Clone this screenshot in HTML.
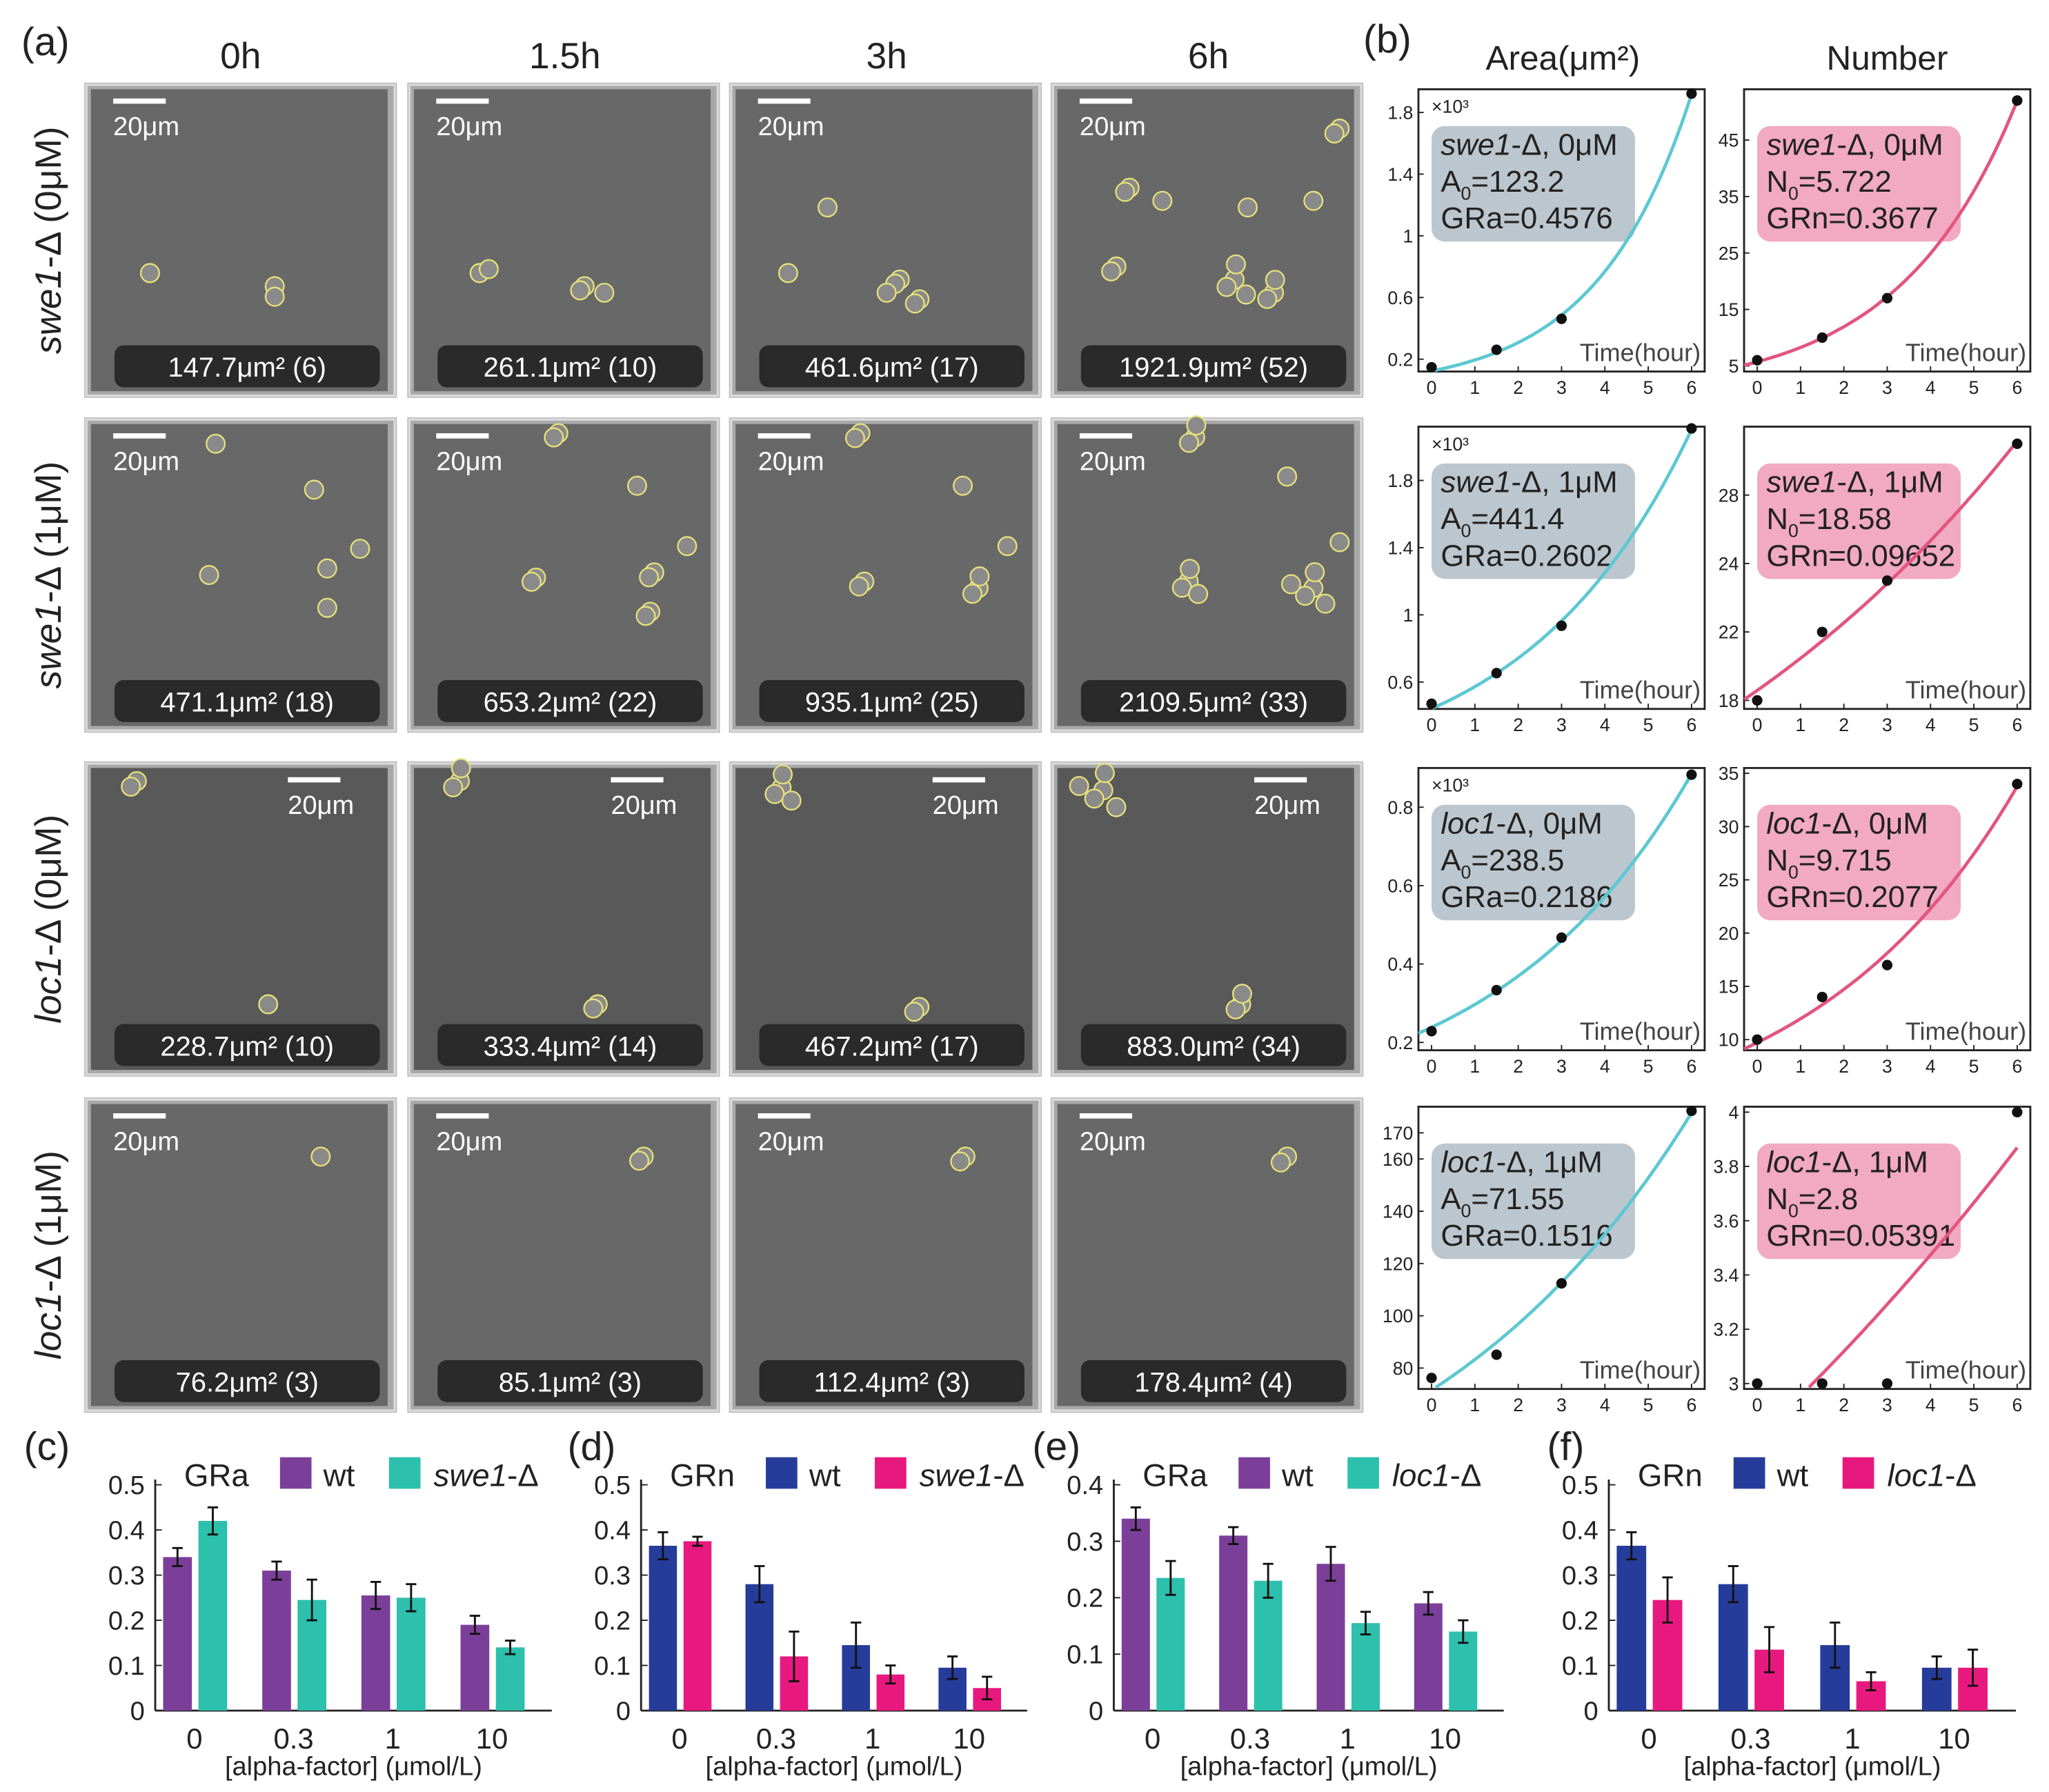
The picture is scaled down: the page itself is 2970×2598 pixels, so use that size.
<!DOCTYPE html>
<html><head><meta charset="utf-8">
<style>
html,body{margin:0;padding:0;background:#fff;}
svg{display:block;font-family:"Liberation Sans","DejaVu Sans",sans-serif;}
</style></head>
<body>
<svg id="fig" width="2970" height="2598" viewBox="0 0 1560 1365" xmlns="http://www.w3.org/2000/svg"></svg>
<script>
// ---------- data ----------
const timeHeaders = ['0h','1.5h','3h','6h'];
const rowLabels = [['swe1','-Δ (0μM)'],['swe1','-Δ (1μM)'],['loc1','-Δ (0μM)'],['loc1','-Δ (1μM)']];
const areaLabels = [
 ['147.7μm² (6)','261.1μm² (10)','461.6μm² (17)','1921.9μm² (52)'],
 ['471.1μm² (18)','653.2μm² (22)','935.1μm² (25)','2109.5μm² (33)'],
 ['228.7μm² (10)','333.4μm² (14)','467.2μm² (17)','883.0μm² (34)'],
 ['76.2μm² (3)','85.1μm² (3)','112.4μm² (3)','178.4μm² (4)']];
const timePts = [0,1.5,3,6];
const areaVals = [[0.1477,0.2611,0.4616,1.9219],[0.4711,0.6532,0.9351,2.1095],[0.2287,0.3334,0.4672,0.8830],[76.2,85.1,112.4,178.4]];
const areaA0 = [0.1232,0.4414,0.2385,71.55];
const areaGR = [0.4576,0.2602,0.2186,0.1516];
const areaTicks = [[0.2,0.6,1,1.4,1.8],[0.6,1,1.4,1.8],[0.2,0.4,0.6,0.8],[80,100,120,140,160,170]];
const areaRange = [[0.12,1.95],[0.44,2.12],[0.18,0.9],[72,180]];
const areaBox = [['swe1','-Δ, 0μM','A','=123.2','GRa=0.4576'],['swe1','-Δ, 1μM','A','=441.4','GRa=0.2602'],['loc1','-Δ, 0μM','A','=238.5','GRa=0.2186'],['loc1','-Δ, 1μM','A','=71.55','GRa=0.1516']];
const numVals = [[6,10,17,52],[18,22,25,33],[10,14,17,34],[3,3,3,4]];
const numN0 = [5.722,18.58,9.715,2.8];
const numGR = [0.3677,0.09652,0.2077,0.05391];
const numTicks = [[5,15,25,35,45],[18,22,26,30],[10,15,20,25,30,35],[3,3.2,3.4,3.6,3.8,4]];
const numTickLabels = [['5','15','25','35','45'],['18','22','24','28'],['10','15','20','25','30','35'],['3','3.2','3.4','3.6','3.8','4']];
const numRange = [[4,54],[17.5,34],[9,35.5],[2.98,4.02]];
const numBox = [['swe1','-Δ, 0μM','N','=5.722','GRn=0.3677'],['swe1','-Δ, 1μM','N','=18.58','GRn=0.09652'],['loc1','-Δ, 0μM','N','=9.715','GRn=0.2077'],['loc1','-Δ, 1μM','N','=2.8','GRn=0.05391']];
const xTicks = [0,1,2,3,4,5,6];

const barCats = ['0','0.3','1','10'];
const cWt = [0.34,0.31,0.255,0.19], cWtErr=[0.02,0.02,0.03,0.02];
const cMut = [0.42,0.245,0.25,0.14], cMutErr=[0.03,0.045,0.03,0.015];
const dWt = [0.365,0.28,0.145,0.095], dWtErr=[0.03,0.04,0.05,0.025];
const dMut = [0.375,0.12,0.08,0.05], dMutErr=[0.01,0.055,0.02,0.025];
const eWt = [0.34,0.31,0.26,0.19], eWtErr=[0.02,0.015,0.03,0.02];
const eMut = [0.235,0.23,0.155,0.14], eMutErr=[0.03,0.03,0.02,0.02];
const fWt = [0.365,0.28,0.145,0.095], fWtErr=[0.03,0.04,0.05,0.025];
const fMut = [0.245,0.135,0.065,0.095], fMutErr=[0.05,0.05,0.02,0.04];
const ticks05 = [0,0.1,0.2,0.3,0.4,0.5];
const ticks04 = [0,0.1,0.2,0.3,0.4];

// ---------- helpers ----------
const NS='http://www.w3.org/2000/svg';
const svg=document.getElementById('fig');
function mk(tag,attrs,parent){const e=document.createElementNS(NS,tag);for(const k in attrs)e.setAttribute(k,attrs[k]);(parent||svg).appendChild(e);return e;}
function txt(s,x,y,size,parent,extra){const e=mk('text',Object.assign({x:x,y:y,'font-size':size,fill:'#222'},extra||{}),parent);e.textContent=s;return e;}

// ---------- panel (a) ----------
let t=txt('(a)',16,42,30);


const colX=[64,310,555,800], rowY=[63,318,580,836], PW=238, PH=240;
const headX=[183,430,675,920];
timeHeaders.forEach((h,i)=>{
  const e=txt(h,headX[i],52,28,svg,{'text-anchor':'middle'});
  
  
});
rowLabels.forEach((r,i)=>{
  const cy=rowY[i]+PH/2;
  const e=mk('text',{x:0,y:0,'font-size':28,fill:'#222','text-anchor':'middle',transform:`translate(46,${cy}) rotate(-90)`});
  const a=mk('tspan',{'font-style':'italic'},e);a.textContent=r[0];
  const b=mk('tspan',{},e);b.textContent=r[1];
  
  
});
const cellSets=[
 [[[50,145,9],[145,155,10],[145,163,8]],[[55,145,10],[62,142,9],[135,155,12],[150,160,10]],[[45,145,10],[75,95,9],[130,150,12],[145,165,12],[120,160,10]],[[50,140,14],[60,80,12],[85,90,10],[140,150,30],[170,160,22],[150,95,10],[200,90,10],[220,35,14]]],
 [[[100,20,10],[175,55,7],[95,120,10],[185,115,10],[185,145,10],[210,100,8]],[[115,12,12],[175,52,7],[98,122,12],[188,118,14],[185,148,12],[213,98,8]],[[100,12,14],[178,52,7],[103,125,14],[190,130,20],[212,98,8]],[[110,15,20],[180,45,10],[105,125,25],[200,130,35],[220,95,10]]],
 [[[40,15,16],[140,185,10]],[[40,15,22],[145,185,12]],[[40,20,26],[145,187,14]],[[40,22,38],[145,185,18]]],
 [[[180,45,10]],[[180,45,12]],[[180,45,14]],[[180,45,17]]]
];
for(let r=0;r<4;r++)for(let c=0;c<4;c++){
  const x=colX[c],y=rowY[r];
  const g=mk('g',{});
  
  
  mk('rect',{x:x,y:y,width:PW,height:PH,fill:'#a8a8a8'},g);
  mk('rect',{x:x+5,y:y+5,width:PW-12,height:PH-10,fill:r==2?'#595959':'#686868'},g);
  mk('rect',{x:x+1.5,y:y+1.5,width:PW-3,height:PH-3,fill:'none',stroke:'#d8d8d8','stroke-width':2},g);
  cellSets[r][c].forEach(cl=>{
    const n=Math.max(1,Math.round(cl[2]/7));
    for(let k=0;k<n;k++){const ang=k*2.4, rr=cl[2]*0.55*Math.sqrt(k/n);
      mk('circle',{cx:x+cl[0]+rr*Math.cos(ang),cy:y+cl[1]+rr*Math.sin(ang),r:7,fill:'#8a8a8a',stroke:'#e8e27a','stroke-width':1.2},g);}
  });
  const sbx = r==2 ? x+155 : x+22;
  const sb=mk('line',{x1:sbx,x2:sbx+40,y1:y+14,y2:y+14,stroke:'#fff','stroke-width':4},g);
  
  
  const st=txt('20μm',sbx,y+40,20,g,{fill:'#fff'});
  
  
  mk('rect',{x:x+23,y:y+200,width:202,height:32,rx:7,fill:'#2a2a2a'},g);
  const al=txt(areaLabels[r][c],x+124,y+224,21,g,{fill:'#fff','text-anchor':'middle'});
  
  
}

// ---------- panel (b) ----------
t=txt('(b)',1038,40,30);


t=txt('Area(μm²)',1190,53,26,svg,{'text-anchor':'middle'});


t=txt('Number',1437,53,26,svg,{'text-anchor':'middle'});



const sRowTop=[68,325,585,843], sH=215;
function smallPlot(ox,oy,w,h,vals,ticks,tickLabels,rng,fn,color,box,boxFill,isArea,idx){
  const g=mk('g',{});
  
  
  const xs=tv=>ox+10+(tv/6)*(w-20);
  const ys=v=>oy+h-((v-rng[0])/(rng[1]-rng[0]))*h;
  mk('rect',{x:ox,y:oy,width:w,height:h,fill:'#fff',stroke:'#222','stroke-width':1.5},g);
  xTicks.forEach(tv=>{mk('line',{x1:xs(tv),x2:xs(tv),y1:oy+h,y2:oy+h-4,stroke:'#222'},g);
    const e=txt(String(tv),xs(tv),oy+h+17,14,g,{'text-anchor':'middle'});
    
    });
  ticks.forEach((tv,i)=>{mk('line',{x1:ox,x2:ox+4,y1:ys(tv),y2:ys(tv),stroke:'#222'},g);
    const e=txt(tickLabels[i],ox-4,ys(tv)+5,14,g,{'text-anchor':'end'});
    
    });
  if(isArea && idx<3){const e=txt('×10³',ox+10,oy+18,14,g);
    
    }
  const bx=mk('rect',{x:ox+10,y:oy+28,width:155,height:88,rx:10,fill:boxFill},g);
  
  
  const t1=mk('text',{x:ox+17,y:oy+50,'font-size':23,fill:'#222'},g);
  const a=mk('tspan',{'font-style':'italic'},t1);a.textContent=box[0];
  const b=mk('tspan',{},t1);b.textContent=box[1];
  const t2=mk('text',{x:ox+17,y:oy+78,'font-size':23,fill:'#222'},g);
  const c1=mk('tspan',{},t2);c1.textContent=box[2];
  const c2=mk('tspan',{'font-size':14,dy:6},t2);c2.textContent='0';
  const c3=mk('tspan',{dy:-6},t2);c3.textContent=box[3];
  txt(box[4],ox+17,oy+106,23,g);
  let d='';
  for(let k=0;k<=80;k++){const tv=-0.3+k*6.3/80;const v=fn(tv);if(v<rng[0]||v>rng[1]*1.02)continue;
    d+=(d?'L':'M')+xs(tv).toFixed(1)+','+ys(v).toFixed(1);}
  const cv=mk('path',{d:d,fill:'none',stroke:color,'stroke-width':2.5},g);
  
  
  vals.forEach((v,i)=>{const p=mk('circle',{cx:xs(timePts[i]),cy:ys(v),r:4,fill:'#111'},g);
    
    });
  const tl=txt('Time(hour)',ox+w-3,oy+h-8,19,g,{'text-anchor':'end',fill:'#444'});
  
  
}
for(let i=0;i<4;i++){
  smallPlot(1080,sRowTop[i],218,sH,areaVals[i],areaTicks[i],areaTicks[i].map(String),areaRange[i],tv=>areaA0[i]*Math.exp(areaGR[i]*tv),'#5cc8d2',areaBox[i],'#bcc6ce',true,i);
  smallPlot(1328,sRowTop[i],218,sH,numVals[i],numTicks[i],numTickLabels[i],numRange[i],tv=>numN0[i]*Math.exp(numGR[i]*tv),'#e2557f',numBox[i],'#f2a9c2',false,i);
}

// ---------- bar charts ----------
function barChart(label,ox,ax1,ymax,ticks,title,wt,wtE,mut,mutE,c1,c2,mutName,lx){
  const g=mk('g',{});
  
  
  const y0=1303, yTop=1131;
  const ys=v=>y0-(v/ymax)*(y0-yTop);
  const bw=(ax1-ox)/4;
  const lab=txt('('+label+')',lx,1112,30,g);
  
  
  mk('line',{x1:ox,x2:ox,y1:yTop-4,y2:y0,stroke:'#222','stroke-width':1.5},g);
  mk('line',{x1:ox,x2:ax1,y1:y0,y2:y0,stroke:'#222','stroke-width':1.5},g);
  ticks.forEach(tv=>{mk('line',{x1:ox,x2:ox+5,y1:ys(tv),y2:ys(tv),stroke:'#222'},g);
    const e=txt(String(tv),ox-8,ys(tv)+7,20,g,{'text-anchor':'end'});
    
    });
  const tt=txt(title,ox+22,1132,24,g);
  
  
  const lg1=mk('rect',{x:ox+95,y:1110,width:24,height:24,fill:c1},g);
  
  
  const l1=txt('wt',ox+128,1132,24,g);
  
  
  const lg2=mk('rect',{x:ox+178,y:1110,width:24,height:24,fill:c2},g);
  
  
  const l2=mk('text',{x:ox+212,y:1132,'font-size':24,fill:'#222'},g);
  const s1=mk('tspan',{'font-style':'italic'},l2);s1.textContent=mutName;
  const s2=mk('tspan',{},l2);s2.textContent='-Δ';
  
  
  barCats.forEach((cat,i)=>{
    const bs=ox+i*bw+6, w=bw*0.29;
    [[wt[i],wtE[i],c1,bs],[mut[i],mutE[i],c2,bs+w+5]].forEach((b,j)=>{
      const r=mk('rect',{x:b[3],y:ys(b[0]),width:w,height:y0-ys(b[0]),fill:b[2]},g);
      
      
      const cx=b[3]+w/2;
      mk('line',{x1:cx,x2:cx,y1:ys(b[0]+b[1]),y2:ys(b[0]-b[1]),stroke:'#111','stroke-width':1.5},g);
      mk('line',{x1:cx-4,x2:cx+4,y1:ys(b[0]+b[1]),y2:ys(b[0]+b[1]),stroke:'#111','stroke-width':1.5},g);
      mk('line',{x1:cx-4,x2:cx+4,y1:ys(b[0]-b[1]),y2:ys(b[0]-b[1]),stroke:'#111','stroke-width':1.5},g);
    });
    const e=txt(cat,bs+w+2,1332,22,g,{'text-anchor':'middle'});
    
    
  });
  const xt=txt('[alpha-factor] (μmol/L)',(ox+ax1)/2,1352,20,g,{'text-anchor':'middle'});
  
  
}
barChart('c',118,420,0.5,ticks05,'GRa',cWt,cWtErr,cMut,cMutErr,'#7c3f99','#2cc0ad','swe1',18);
barChart('d',488,782,0.5,ticks05,'GRn',dWt,dWtErr,dMut,dMutErr,'#253c9b','#e8197e','swe1',432);
barChart('e',848,1145,0.4,ticks04,'GRa',eWt,eWtErr,eMut,eMutErr,'#7c3f99','#2cc0ad','loc1',786);
barChart('f',1225,1535,0.5,ticks05,'GRn',fWt,fWtErr,fMut,fMutErr,'#253c9b','#e8197e','loc1',1178);
</script>
</body></html>
